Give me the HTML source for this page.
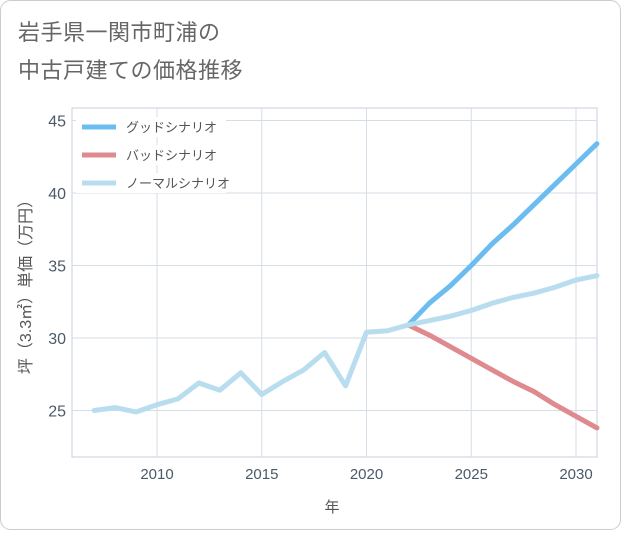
<!DOCTYPE html>
<html><head><meta charset="utf-8"><style>
body{margin:0;background:#fff;font-family:"Liberation Sans","Noto Sans CJK JP",sans-serif;}
#wrap{position:relative;width:621px;height:530px;}
</style></head><body>
<div id="wrap">
<svg id="chart" width="621" height="530">
<rect x="0.5" y="0.5" width="620" height="529" rx="10" fill="#fff" stroke="#ccc"/>
<text x="18" y="40" font-size="22" fill="#666" letter-spacing="0.5">岩手県一関市町浦の</text>
<text x="18" y="78" font-size="22" fill="#666" letter-spacing="0.5">中古戸建ての価格推移</text>
<g id="grid"></g><g id="series"></g><g id="legend"></g>
<text x="332" y="512" font-size="15" fill="#555" text-anchor="middle">年</text>
<text transform="translate(31,283) rotate(-90)" font-size="16" fill="#555" text-anchor="middle">坪（3.3㎡）単価（万円）</text>
</svg></div>
<script>
const years=[2007,2008,2009,2010,2011,2012,2013,2014,2015,2016,2017,2018,2019,2020,2021,2022,2023,2024,2025,2026,2027,2028,2029,2030,2031];
const normal=[25.0,25.2,24.9,25.4,25.8,26.9,26.4,27.6,26.1,27.0,27.8,29.0,26.7,30.4,30.5,30.9,31.2,31.5,31.9,32.4,32.8,33.1,33.5,34.0,34.3];
const fYears=[2022,2023,2024,2025,2026,2027,2028,2029,2030,2031];
const good=[30.9,32.4,33.6,35.0,36.5,37.8,39.2,40.6,42.0,43.4];
const bad=[30.9,30.2,29.4,28.6,27.8,27.0,26.3,25.4,24.6,23.8];
const xTicks=[2010,2015,2020,2025,2030];
const yTicks=[25,30,35,40,45];
const NS="http://www.w3.org/2000/svg";
const L=72,R=597,T=108,B=457;
const x=v=>157+(v-2010)*20.95;
const y=v=>338-(v-30)*14.5;
function mk(tag,attrs,parent){const e=document.createElementNS(NS,tag);for(const k in attrs)e.setAttribute(k,attrs[k]);parent.appendChild(e);return e;}
const grid=document.getElementById('grid');
const gr=mk('rect',{x:L,y:T,width:R-L,height:B-T,fill:'none',stroke:'#ccd'},grid);


xTicks.forEach(t=>{
 const l=mk('line',{x1:x(t),x2:x(t),y1:T,y2:B,stroke:'#d5dde5'},grid);
 
 
 const tx=mk('text',{x:x(t),y:479,'font-size':15,fill:'#4a5a6a','text-anchor':'middle'},grid);tx.textContent=t;
 
 
});
yTicks.forEach(t=>{
 const l=mk('line',{x1:L,x2:R,y1:y(t),y2:y(t),stroke:'#d5dde5'},grid);
 
 
 const tx=mk('text',{x:66,y:y(t)+6,'font-size':16,fill:'#4a5a6a','text-anchor':'end'},grid);tx.textContent=t;
 
 
});
const sg=document.getElementById('series');
function line(xs,vs,color,name){
 const p=mk('polyline',{points:xs.map((v,i)=>x(v)+','+y(vs[i])).join(' '),fill:'none',stroke:color,'stroke-width':5,'stroke-linejoin':'round','stroke-linecap':'round'},sg);
 
 
}
line(fYears,good,'#6bbdf0','good-scenario-line');
line(fYears,bad,'#de8a8f','bad-scenario-line');
line(years,normal,'#b8ddef','normal-scenario-line');
const lg=document.getElementById('legend');
[['グッドシナリオ','#6bbdf0','legend-good'],['バッドシナリオ','#de8a8f','legend-bad'],['ノーマルシナリオ','#b8ddef','legend-normal']].forEach((d,i)=>{
 const g=mk('g',{},lg);
 
 
 const yy=127+i*28;
 mk('rect',{x:76,y:yy-10,width:150,height:20,fill:'#fff'},g);
 mk('line',{x1:82,x2:116,y1:yy,y2:yy,stroke:d[1],'stroke-width':5},g);
 const t=mk('text',{x:126,y:yy+5,'font-size':13,fill:'#555'},g);t.textContent=d[0];
});
</script>
</body></html>
